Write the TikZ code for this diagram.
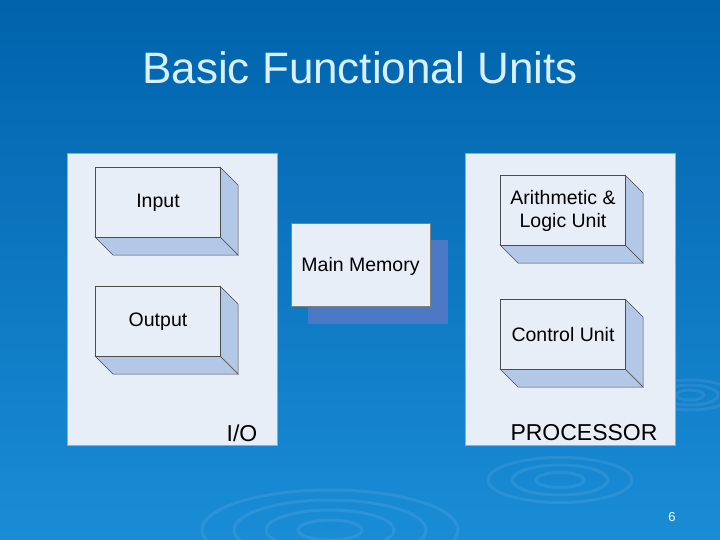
\documentclass[tikz,border=0pt]{standalone}
\usepackage{fontspec}
\setmainfont{Liberation Sans}
\begin{document}
\begin{tikzpicture}[x=1pt,y=-1pt,
 panel/.style={fill=panelc,draw=gray!70,line width=0.6pt},
 front/.style={fill=panelc,draw=black!70,line width=0.5pt},
 side/.style={fill=sidec,draw=black!70,line width=0.5pt},
 lbl/.style={font=\fontsize{19.5}{23}\selectfont,align=center,text=black}]
\definecolor{panelc}{HTML}{E8EEF8}
\definecolor{sidec}{HTML}{B3C7E6}
\definecolor{shad}{HTML}{4A78C4}
\definecolor{bgtop}{HTML}{0063AC}
\definecolor{bgbot}{HTML}{1A8CD6}
\definecolor{titlec}{HTML}{D8F0FF}
\useasboundingbox (0,0) rectangle (720,540);
\shade[top color=bgtop,bottom color=bgbot] (0,0) rectangle (720,540);
\begin{scope}[draw=white,opacity=0.08,line width=3pt]
\foreach \r in {20,40,60,80} \draw (330,530) ellipse ({\r*1.6} and {\r*0.5});
\foreach \r in {15,30,45} \draw (560,480) ellipse ({\r*1.6} and {\r*0.5});
\foreach \r in {10,20,30} \draw (690,395) ellipse ({\r*1.4} and {\r*0.5});
\end{scope}
\node[text=titlec,font=\fontsize{44}{50}\selectfont] (title) at (360,68) {Basic Functional Units};
% panels
\node[panel,minimum width=210,minimum height=292,inner sep=0,anchor=north west] (io) at (67,153) {};
\node[panel,minimum width=210,minimum height=292,inner sep=0,anchor=north west] (proc) at (465,153) {};
\node[lbl,font=\fontsize{23}{27}\selectfont] (iol) at (242,433) {I/O};
\node[lbl,font=\fontsize{23}{27}\selectfont] (procl) at (584,433) {PROCESSOR};
% 3D boxes
\foreach \n/\x/\y/\t in {in/95/167/{Input},out/95/286/{Output},alu/500/175/{Arithmetic \&\\Logic Unit},cu/500/299/{Control Unit}}{
 \draw[side] (\x+125,\y) -- (\x+143,\y+18) -- (\x+143,\y+88) -- (\x+125,\y+70) -- cycle;
 \draw[side] (\x,\y+70) -- (\x+125,\y+70) -- (\x+143,\y+88) -- (\x+18,\y+88) -- cycle;
 \node[front,minimum width=125,minimum height=70,inner sep=0,anchor=north west] (\n) at (\x,\y) {};
 \node[lbl] (\n t) at (\x+63,\y+36) {\t};
}
% main memory
\fill[shad] (308,240) rectangle (448,324);
\node[front,draw=black!50,minimum width=139,minimum height=83,inner sep=0,anchor=north west,lbl] (mem) at (291,223) {};
\node[lbl] (memt) at (360.5,266) {Main Memory};
\node[text=white,font=\fontsize{13}{15}\selectfont] (pg) at (672,517) {6};
\end{tikzpicture}
\end{document}
